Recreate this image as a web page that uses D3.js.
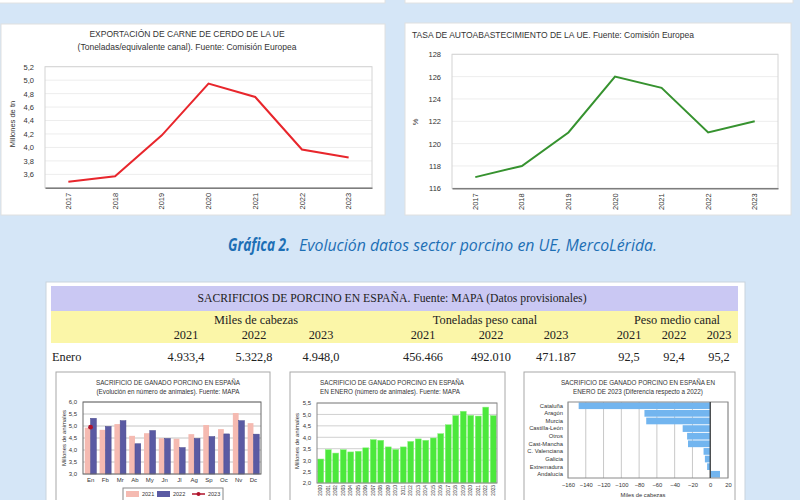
<!DOCTYPE html>
<html>
<head>
<meta charset="utf-8">
<script src="https://cdn.jsdelivr.net/npm/d3@7"></script>
<style>
  body { margin: 0; background: #d5e6f7; }
  svg { display: block; }
</style>
</head>
<body>
<svg id="chart" width="800" height="500"></svg>
<script>
// ---- data ----
var years = ["2017", "2018", "2019", "2020", "2021", "2022", "2023"];
var exportValues = [3.49, 3.57, 4.18, 4.95, 4.75, 3.97, 3.85];
var exportTicks = [3.6, 3.8, 4.0, 4.2, 4.4, 4.6, 4.8, 5.0, 5.2];
var selfSupply = [117, 118, 121, 126, 125, 121, 122];
var selfSupplyTicks = [116, 118, 120, 122, 124, 126, 128];

var months = ["En", "Fb", "Mr", "Ab", "My", "Jn", "Jl", "Ag", "Sp", "Oc", "Nv", "Dc"];
var slaughter2021 = [4.93, 4.84, 5.08, 4.59, 4.70, 4.49, 4.47, 4.66, 5.04, 4.87, 5.54, 5.12];
var slaughter2022 = [5.32, 4.98, 5.22, 4.26, 4.81, 4.48, 4.10, 4.48, 4.56, 4.67, 5.22, 4.66];
var slaughter2023 = [4.95];
var monthTicks = [3.0, 3.5, 4.0, 4.5, 5.0, 5.5, 6.0];

var janYears = ["2000", "2001", "2002", "2003", "2004", "2005", "2006", "2007", "2008", "2009", "2010", "2011",
                "2012", "2013", "2014", "2015", "2016", "2017", "2018", "2019", "2020", "2021", "2022", "2023"];
var janValues = [3.05, 3.46, 3.31, 3.46, 3.36, 3.39, 3.54, 3.90, 3.87, 3.58, 3.47, 3.58,
                 3.82, 3.93, 3.87, 3.97, 4.16, 4.55, 4.95, 5.14, 4.96, 4.93, 5.32, 4.95];
var janTicks = [2.0, 2.5, 3.0, 3.5, 4.0, 4.5, 5.0, 5.5];

var regions = ["Cataluña", "Aragón", "Murcia", "Castilla-León", "Otros", "Cast-Mancha",
               "C. Valenciana", "Galicia", "Extremadura", "Andalucía"];
var regionDiff = [-148, -74, -72, -31, -26, -25, -7.5, -6, -3.5, 11];
var diffTicks = [-160, -140, -120, -100, -80, -60, -40, -20, 0, 20];

var tableGroups = ["Miles de cabezas", "Toneladas peso canal", "Peso medio canal"];
var tableYears = ["2021", "2022", "2023", "2021", "2022", "2023", "2021", "2022", "2023"];
var eneroValues = ["4.933,4", "5.322,8", "4.948,0", "456.466", "492.010", "471.187", "92,5", "92,4", "95,2"];

var svg = d3.select("#chart");
var sans = "'Liberation Sans', Arial, sans-serif";
var serif = "'Liberation Serif', 'DejaVu Serif', serif";

function comma(fmt) {
  return function (d) { return d3.format(fmt)(d).replace(".", ","); };
}

svg.append("rect").attr("width", 800).attr("height", 500).attr("fill", "#d5e6f7");

// bottoms of the panels above
svg.append("rect").attr("x", -2).attr("y", -10).attr("width", 387).attr("height", 13)
  .attr("fill", "#fff").attr("stroke", "#e2e2e2");
svg.append("rect").attr("x", 405).attr("y", -10).attr("width", 388).attr("height", 13)
  .attr("fill", "#fff").attr("stroke", "#e2e2e2");

// ---- top line charts ----
function lineChart(cfg) {
  var g = svg.append("g");
  g.append("rect").attr("x", cfg.px).attr("y", cfg.py).attr("width", cfg.pw).attr("height", cfg.ph)
    .attr("fill", "#fff").attr("stroke", "#e0e0e0");

  var x = d3.scaleBand().domain(years).range([cfg.x0, cfg.x1]);
  var y = d3.scaleLinear().domain(cfg.domain).range([cfg.y1, cfg.y0]);

  g.selectAll(".grid").data(cfg.ticks).enter().append("line")
    .attr("x1", cfg.x0).attr("x2", cfg.x1)
    .attr("y1", function (d) { return y(d); }).attr("y2", function (d) { return y(d); })
    .attr("stroke", "#ededed");
  g.append("rect").attr("x", cfg.x0).attr("y", cfg.y0).attr("width", cfg.x1 - cfg.x0).attr("height", cfg.y1 - cfg.y0)
    .attr("fill", "none").attr("stroke", "#d4d4d4");

  var ya = g.append("g").attr("transform", "translate(" + (cfg.x0 - 8) + ",0)")
    .call(d3.axisLeft(y).tickValues(cfg.ticks).tickSize(0).tickFormat(cfg.format));
  ya.select(".domain").remove();
  ya.attr("font-family", sans).attr("font-size", 7.5);
  ya.selectAll("text").attr("fill", "#333");

  var xa = g.append("g").attr("transform", "translate(0," + cfg.y1 + ")")
    .call(d3.axisBottom(x).tickSize(0));
  xa.select(".domain").attr("stroke", "#7d7d7d").attr("stroke-width", 1.6);
  xa.attr("font-family", sans).attr("font-size", 7.5);
  xa.selectAll("text").attr("fill", "#333").attr("transform", "rotate(-90)")
    .attr("x", -5).attr("y", 0).attr("dy", "0.35em").style("text-anchor", "end");

  g.append("path").datum(cfg.values)
    .attr("d", d3.line()
      .x(function (d, i) { return x(years[i]) + x.bandwidth() / 2; })
      .y(function (d) { return y(d); }))
    .attr("fill", "none").attr("stroke", cfg.color).attr("stroke-width", 2);

  g.append("text").attr("transform", "translate(" + cfg.labelX + "," + cfg.labelY + ") rotate(-90)")
    .attr("text-anchor", "middle").attr("font-family", sans).attr("font-size", 7.5).attr("fill", "#333")
    .text(cfg.label);

  cfg.title.forEach(function (t, i) {
    g.append("text").attr("x", cfg.titleX).attr("y", cfg.titleY + i * 13)
      .attr("text-anchor", cfg.titleAnchor).attr("font-family", sans).attr("font-size", 8.5)
      .attr("fill", "#333").text(t);
  });
}

lineChart({
  px: 1, py: 24, pw: 384, ph: 191,
  x0: 45, x1: 372, y0: 66.7, y1: 187.8,
  domain: [3.4, 5.2], ticks: exportTicks, format: comma(".1f"),
  values: exportValues, color: "#e8262c",
  label: "Millones de tn", labelX: 15, labelY: 124,
  title: ["EXPORTACIÓN DE CARNE DE CERDO DE LA UE", "(Toneladas/equivalente canal). Fuente: Comisión Europea"],
  titleX: 187, titleY: 37, titleAnchor: "middle"
});

lineChart({
  px: 405, py: 23, pw: 386, ph: 192,
  x0: 452, x1: 778, y0: 54.3, y1: 188.3,
  domain: [116, 128], ticks: selfSupplyTicks, format: d3.format("d"),
  values: selfSupply, color: "#36922f",
  label: "%", labelX: 418, labelY: 122,
  title: ["TASA DE AUTOABASTECIMIENTO DE LA UE. Fuente: Comisión Europea"],
  titleX: 412, titleY: 38, titleAnchor: "start"
});

// ---- caption ----
svg.append("text").attr("x", 228).attr("y", 251)
  .attr("font-family", "'Open Sans', sans-serif").attr("font-size", 17).attr("font-weight", "bold")
  .attr("font-style", "italic").attr("fill", "#1d6fb5")
  .attr("textLength", 62).attr("lengthAdjust", "spacingAndGlyphs").text("Gráfica 2.");
svg.append("text").attr("x", 299).attr("y", 251)
  .attr("font-family", "'Open Sans', sans-serif").attr("font-size", 17)
  .attr("font-style", "italic").attr("fill", "#1d6fb5")
  .attr("textLength", 358).attr("lengthAdjust", "spacingAndGlyphs")
  .text("Evolución datos sector porcino en UE, MercoLérida.");

// ---- bottom panel and table ----
svg.append("rect").attr("x", 46).attr("y", 282).attr("width", 699).attr("height", 240)
  .attr("fill", "#fff").attr("stroke", "#c9d3dd");
svg.append("rect").attr("x", 51).attr("y", 286).attr("width", 687).attr("height", 25).attr("fill", "#cac8f3");
svg.append("rect").attr("x", 51).attr("y", 311).attr("width", 687).attr("height", 32).attr("fill", "#fbf6a8");
svg.append("text").attr("x", 392).attr("y", 302).attr("text-anchor", "middle")
  .attr("font-family", serif).attr("font-size", 11.7).attr("fill", "#222")
  .text("SACRIFICIOS DE PORCINO EN ESPAÑA. Fuente: MAPA (Datos provisionales)");

var groupX = [256, 485, 677];
var colX = [186, 254, 321, 423, 491, 556, 629, 674, 719];
svg.selectAll(".grp").data(tableGroups).enter().append("text")
  .attr("x", function (d, i) { return groupX[i]; }).attr("y", 324).attr("text-anchor", "middle")
  .attr("font-family", serif).attr("font-size", 12.3).attr("fill", "#222").text(function (d) { return d; });
svg.selectAll(".yr").data(tableYears).enter().append("text")
  .attr("x", function (d, i) { return colX[i]; }).attr("y", 339).attr("text-anchor", "middle")
  .attr("font-family", serif).attr("font-size", 12.3).attr("fill", "#222").text(function (d) { return d; });
svg.append("text").attr("x", 52).attr("y", 361).attr("font-family", serif).attr("font-size", 12.3)
  .attr("fill", "#222").text("Enero");
svg.selectAll(".val").data(eneroValues).enter().append("text")
  .attr("x", function (d, i) { return colX[i]; }).attr("y", 361).attr("text-anchor", "middle")
  .attr("font-family", serif).attr("font-size", 12.3).attr("fill", "#222").text(function (d) { return d; });

function box(x, w) {
  svg.append("rect").attr("x", x).attr("y", 372).attr("width", w).attr("height", 140)
    .attr("fill", "#fff").attr("stroke", "#a8a8a8");
}
function smallTitle(lines, x, anchor) {
  lines.forEach(function (t, i) {
    svg.append("text").attr("x", x).attr("y", 385 + i * 8.5).attr("text-anchor", anchor)
      .attr("font-family", sans).attr("font-size", 6.3).attr("fill", "#333").text(t);
  });
}
function yLabel(text, x, y) {
  svg.append("text").attr("transform", "translate(" + x + "," + y + ") rotate(-90)")
    .attr("text-anchor", "middle").attr("font-family", sans).attr("font-size", 6).attr("fill", "#333").text(text);
}

// ---- chart A: monthly slaughter ----
box(56, 214);
smallTitle(["SACRIFICIO DE GANADO PORCINO EN ESPAÑA", "(Evolución en número de animales). Fuente: MAPA"], 168, "middle");
(function () {
  var x0 = 83, x1 = 261, y0 = 402, y1 = 474;
  var x = d3.scaleBand().domain(months).range([x0, x1]).paddingInner(0.22).paddingOuter(0.12);
  var xs = d3.scaleBand().domain(["2021", "2022"]).range([0, x.bandwidth()]);
  var y = d3.scaleLinear().domain([3, 6]).range([y1, y0]);
  svg.selectAll(".gA").data(monthTicks).enter().append("line")
    .attr("x1", x0).attr("x2", x1).attr("y1", function (d) { return y(d); }).attr("y2", function (d) { return y(d); })
    .attr("stroke", "#c4c4c4");
  svg.selectAll(".b21").data(slaughter2021).enter().append("rect")
    .attr("x", function (d, i) { return x(months[i]) + xs("2021"); }).attr("width", xs.bandwidth())
    .attr("y", function (d) { return y(d); }).attr("height", function (d) { return y1 - y(d); })
    .attr("fill", "#f5bab1");
  svg.selectAll(".b22").data(slaughter2022).enter().append("rect")
    .attr("x", function (d, i) { return x(months[i]) + xs("2022"); }).attr("width", xs.bandwidth())
    .attr("y", function (d) { return y(d); }).attr("height", function (d) { return y1 - y(d); })
    .attr("fill", "#5a5aa3").attr("stroke", "#46468a").attr("stroke-width", 0.5);
  svg.selectAll(".m23").data(slaughter2023).enter().append("circle")
    .attr("cx", function (d, i) { return x(months[i]) + x.bandwidth() / 2; }).attr("cy", function (d) { return y(d); })
    .attr("r", 2.4).attr("fill", "#b0132b");
  svg.append("rect").attr("x", x0).attr("y", y0).attr("width", x1 - x0).attr("height", y1 - y0)
    .attr("fill", "none").attr("stroke", "#6a6a6a");
  var ya = svg.append("g").attr("transform", "translate(" + (x0 - 3) + ",0)")
    .call(d3.axisLeft(y).tickValues(monthTicks).tickSize(0).tickFormat(comma(".1f")));
  ya.select(".domain").remove();
  ya.attr("font-family", sans).attr("font-size", 6).selectAll("text").attr("fill", "#333");
  var xa = svg.append("g").attr("transform", "translate(0," + y1 + ")").call(d3.axisBottom(x).tickSize(0));
  xa.select(".domain").remove();
  xa.attr("font-family", sans).attr("font-size", 6).selectAll("text").attr("fill", "#333").attr("y", 4);
  yLabel("Millones de animales", 66, 438);

  // legend
  var lg = svg.append("g");
  lg.append("rect").attr("x", 123).attr("y", 488).attr("width", 100).attr("height", 20)
    .attr("fill", "#fff").attr("stroke", "#888");
  lg.append("rect").attr("x", 126).attr("y", 491).attr("width", 13).attr("height", 6).attr("fill", "#f5bab1");
  lg.append("rect").attr("x", 157).attr("y", 491).attr("width", 13).attr("height", 6).attr("fill", "#5a5aa3");
  lg.append("line").attr("x1", 192).attr("x2", 205).attr("y1", 494).attr("y2", 494).attr("stroke", "#b0132b").attr("stroke-width", 1.5);
  lg.append("circle").attr("cx", 198.5).attr("cy", 494).attr("r", 2).attr("fill", "#b0132b");
  [["2021", 142], ["2022", 173], ["2023", 208]].forEach(function (d) {
    lg.append("text").attr("x", d[1]).attr("y", 496).attr("font-family", sans).attr("font-size", 5.5)
      .attr("fill", "#333").text(d[0]);
  });
})();

// ---- chart B: January series ----
box(290, 215);
smallTitle(["SACRIFICIO DE GANADO PORCINO EN ESPAÑA", "EN ENERO (número de animales). Fuente: MAPA"], 320, "start");
(function () {
  var x0 = 317, x1 = 497, y0 = 403, y1 = 483;
  var x = d3.scaleBand().domain(janYears).range([x0, x1]).paddingInner(0.2).paddingOuter(0.1);
  var y = d3.scaleLinear().domain([2, 5.5]).range([y1, y0]);
  svg.selectAll(".gB").data(janTicks).enter().append("line")
    .attr("x1", x0).attr("x2", x1).attr("y1", function (d) { return y(d); }).attr("y2", function (d) { return y(d); })
    .attr("stroke", "#d0d0d0");
  svg.selectAll(".bj").data(janValues).enter().append("rect")
    .attr("x", function (d, i) { return x(janYears[i]); }).attr("width", x.bandwidth())
    .attr("y", function (d) { return y(d); }).attr("height", function (d) { return y1 - y(d); })
    .attr("fill", "#4ce83c").attr("stroke", "#8ff283").attr("stroke-width", 0.5);
  svg.append("rect").attr("x", x0).attr("y", y0).attr("width", x1 - x0).attr("height", y1 - y0)
    .attr("fill", "none").attr("stroke", "#8a8a8a");
  var ya = svg.append("g").attr("transform", "translate(" + (x0 - 3) + ",0)")
    .call(d3.axisLeft(y).tickValues(janTicks).tickSize(0).tickFormat(comma(".1f")));
  ya.select(".domain").remove();
  ya.attr("font-family", sans).attr("font-size", 6).selectAll("text").attr("fill", "#333");
  var xa = svg.append("g").attr("transform", "translate(0," + y1 + ")").call(d3.axisBottom(x).tickSize(0));
  xa.select(".domain").remove();
  xa.attr("font-family", sans).attr("font-size", 4.8);
  xa.selectAll("text").attr("fill", "#333").attr("transform", "rotate(-90)")
    .attr("x", -2).attr("y", 0).attr("dy", "0.35em").style("text-anchor", "end");
  yLabel("Millones de animales", 299, 441);
})();

// ---- chart C: difference by region ----
box(524, 211);
smallTitle(["SACRIFICIO DE GANADO PORCINO EN ESPAÑA EN", "ENERO DE 2023 (Diferencia respecto a 2022)"], 638, "middle");
(function () {
  var x0 = 568, x1 = 728, y0 = 402, y1 = 478;
  var x = d3.scaleLinear().domain([-160, 20]).range([x0, x1]);
  var y = d3.scaleBand().domain(regions).range([y0, y1]).paddingInner(0.12).paddingOuter(0.05);
  svg.selectAll(".gC").data(diffTicks).enter().append("line")
    .attr("x1", function (d) { return x(d); }).attr("x2", function (d) { return x(d); })
    .attr("y1", y0).attr("y2", y1).attr("stroke", "#c8c8c8");
  svg.selectAll(".bc").data(regionDiff).enter().append("rect")
    .attr("x", function (d) { return x(Math.min(0, d)); }).attr("width", function (d) { return Math.abs(x(d) - x(0)); })
    .attr("y", function (d, i) { return y(regions[i]); }).attr("height", y.bandwidth())
    .attr("fill", "#72b5ef");
  svg.append("rect").attr("x", x0).attr("y", y0).attr("width", x1 - x0).attr("height", y1 - y0)
    .attr("fill", "none").attr("stroke", "#8a8a8a");
  svg.append("line").attr("x1", x(0)).attr("x2", x(0)).attr("y1", y0).attr("y2", y1)
    .attr("stroke", "#333").attr("stroke-width", 1.2);
  var ya = svg.append("g").attr("transform", "translate(" + (x0 - 2) + ",0)").call(d3.axisLeft(y).tickSize(0));
  ya.select(".domain").remove();
  ya.attr("font-family", sans).attr("font-size", 5.8).selectAll("text").attr("fill", "#333");
  var xa = svg.append("g").attr("transform", "translate(0," + y1 + ")")
    .call(d3.axisBottom(x).tickValues(diffTicks).tickSize(0));
  xa.select(".domain").remove();
  xa.attr("font-family", sans).attr("font-size", 5.8).selectAll("text").attr("fill", "#333").attr("y", 5);
  svg.append("text").attr("x", 643).attr("y", 497).attr("text-anchor", "middle")
    .attr("font-family", sans).attr("font-size", 5.8).attr("fill", "#333").text("Miles de cabezas");
})();
</script>
</body>
</html>
